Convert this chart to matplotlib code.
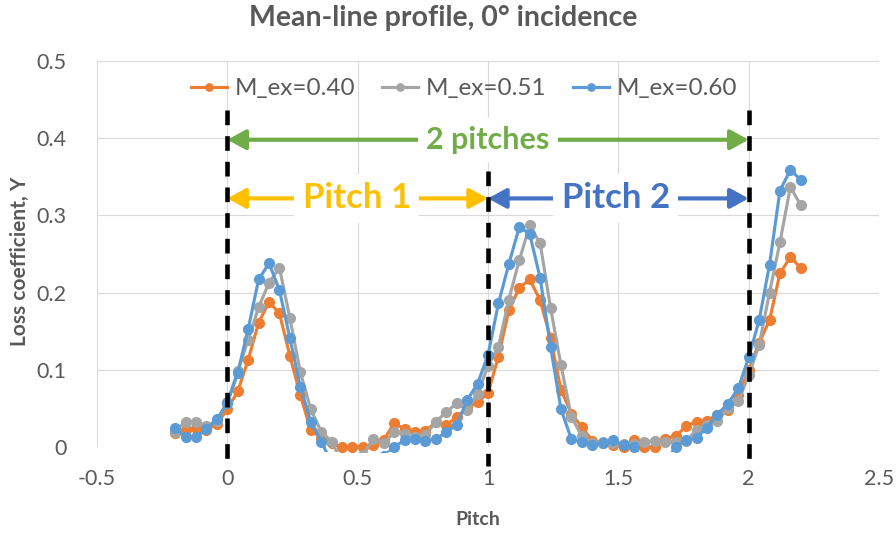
import numpy as np
import matplotlib.pyplot as plt
from matplotlib.patches import Rectangle

plt.rcParams['font.family'] = ['Lato', 'DejaVu Sans']

# pitch positions of the measurement points
pitch = [-0.20, -0.16, -0.12, -0.08, -0.04,
         0.00, 0.04, 0.08, 0.12, 0.16, 0.20, 0.24, 0.28, 0.32, 0.36,
         0.40, 0.44, 0.48, 0.52, 0.56, 0.60, 0.64, 0.68, 0.72, 0.76,
         0.80, 0.84, 0.88, 0.92, 0.96,
         1.00, 1.04, 1.08, 1.12, 1.16, 1.20, 1.24, 1.28, 1.32, 1.36,
         1.40, 1.44, 1.48, 1.52, 1.56, 1.60, 1.64, 1.68, 1.72, 1.76,
         1.80, 1.84, 1.88, 1.92, 1.96,
         2.00, 2.04, 2.08, 2.12, 2.16, 2.20]

# loss coefficient Y for each exit Mach number
y_040 = [0.018, 0.022, 0.024, 0.022, 0.030,
         0.049, 0.072, 0.113, 0.161, 0.188, 0.173, 0.118, 0.067, 0.022, 0.012,
         0.005, 0.000, 0.000, 0.000, 0.003, 0.009, 0.031, 0.023, 0.019, 0.021,
         0.032, 0.028, 0.039, 0.050, 0.058,
         0.070, 0.117, 0.177, 0.206, 0.217, 0.190, 0.141, 0.074, 0.043, 0.026,
         0.008, 0.005, 0.002, 0.000, 0.009, 0.000, 0.000, 0.011, 0.014, 0.027,
         0.033, 0.034, 0.042, 0.048, 0.068,
         0.100, 0.135, 0.164, 0.225, 0.246, 0.232]

y_051 = [0.020, 0.033, 0.033, 0.027, 0.034,
         0.058, 0.098, 0.139, 0.181, 0.213, 0.232, 0.167, 0.097, 0.049, 0.020,
         0.007, -0.020, -0.020, -0.010, 0.011, 0.005, 0.019, 0.017, 0.013, 0.015,
         0.033, 0.045, 0.057, 0.048, 0.069,
         0.105, 0.130, 0.191, 0.242, 0.287, 0.264, 0.180, 0.106, 0.039, 0.014,
         0.005, 0.006, 0.005, 0.004, 0.004, 0.007, 0.008, 0.006, 0.007, 0.008,
         0.022, 0.028, 0.034, 0.050, 0.059,
         0.093, 0.132, 0.200, 0.265, 0.337, 0.313]

y_060 = [0.024, 0.013, 0.013, 0.023, 0.036,
         0.057, 0.096, 0.153, 0.217, 0.238, 0.203, 0.141, 0.078, 0.033, 0.007,
         -0.020, -0.020, -0.020, -0.020, -0.020, -0.012, 0.000, 0.009, 0.011, 0.008,
         0.010, 0.020, 0.028, 0.061, 0.082,
         0.119, 0.186, 0.237, 0.285, 0.276, 0.219, 0.130, 0.049, 0.010, 0.006,
         0.003, 0.005, 0.009, 0.002, 0.000, -0.020, -0.020, -0.020, 0.000, 0.009,
         0.012, 0.025, 0.042, 0.056, 0.076,
         0.116, 0.164, 0.236, 0.332, 0.359, 0.346]

series = [(y_040, '#ED7D31', 'M_ex=0.40'),
          (y_051, '#A5A5A5', 'M_ex=0.51'),
          (y_060, '#5B9BD5', 'M_ex=0.60')]

grey = '#595959'

fig = plt.figure(figsize=(8.96, 5.35), dpi=100)
ax = fig.add_axes([97/896, 1 - 447/535, (879 - 97)/896, (447 - 61)/535])

for vals, col, lab in series:
    ln, = ax.plot(pitch, vals, color=col, lw=2.25, marker='o', ms=7,
                  label=lab, zorder=3)
    # let markers sitting on zero show whole, like the Excel plot area
    clip = Rectangle((0, -0.012), 1, 1.03, transform=ax.transAxes)
    ln.set_clip_path(clip)

ax.set_xlim(-0.5, 2.5)
ax.set_ylim(0, 0.5)
ax.set_xticks(np.arange(-0.5, 2.51, 0.5))
ax.set_xticklabels(['-0.5', '0', '0.5', '1', '1.5', '2', '2.5'])
ax.set_yticks(np.arange(0, 0.51, 0.1))
ax.set_yticklabels(['0', '0.1', '0.2', '0.3', '0.4', '0.5'])
ax.grid(True, color='#D9D9D9', lw=0.8, zorder=0)
ax.set_axisbelow(True)
for s in ax.spines.values():
    s.set_visible(False)
ax.tick_params(axis='both', length=0, labelsize=15.5, labelcolor=grey)
ax.tick_params(axis='y', pad=22)
ax.tick_params(axis='x', pad=16)

ax.set_xlabel('Pitch', fontsize=14, fontweight='bold', color=grey)
ax.xaxis.set_label_coords(0.487, -0.165)
ax.set_ylabel('Loss coefficient, Y', fontsize=15, fontweight='bold', color=grey)
ax.yaxis.set_label_coords(-0.086, 0.48)

fig.text(0.495, 0.966, 'Mean-line profile, 0° incidence', ha='center',
         va='center', fontsize=20.5, fontweight='bold', color=grey)

ax.legend(loc='center', bbox_to_anchor=(0.469, 0.928), ncol=3, frameon=False,
          fontsize=17.5, handlelength=1.5, handletextpad=0.3,
          columnspacing=1.1, markerscale=0.75, labelcolor=grey)

# pitch boundaries
for xb, ytop in [(0, 0.437), (1, 0.357), (2, 0.437)]:
    ax.plot([xb, xb], [ytop, -0.024], color='black', lw=3.3,
            dashes=(3.2, 2.4), dash_capstyle='butt', clip_on=False, zorder=5)

# span arrows with labels
spans = [(0, 2, 0.398, 1.0, '2 pitches', '#70AD47', 22),
         (0, 1, 0.322, 0.496, 'Pitch 1', '#FFC000', 25),
         (1, 2, 0.322, 1.49, 'Pitch 2', '#4472C4', 25)]
for x0, x1, ya, xt, txt, col, fs in spans:
    ax.annotate('', xy=(x0, ya), xytext=(x1, ya),
                arrowprops=dict(arrowstyle='<|-|>,head_length=0.55,head_width=0.3',
                                color=col, lw=3, shrinkA=0, shrinkB=0,
                                mutation_scale=20), zorder=4)
    ax.text(xt, ya, txt, color=col, fontsize=fs, fontweight='bold',
            ha='center', va='center', zorder=6,
            bbox=dict(facecolor='white', edgecolor='none', pad=6))

fig.savefig('out.png', dpi=100)
